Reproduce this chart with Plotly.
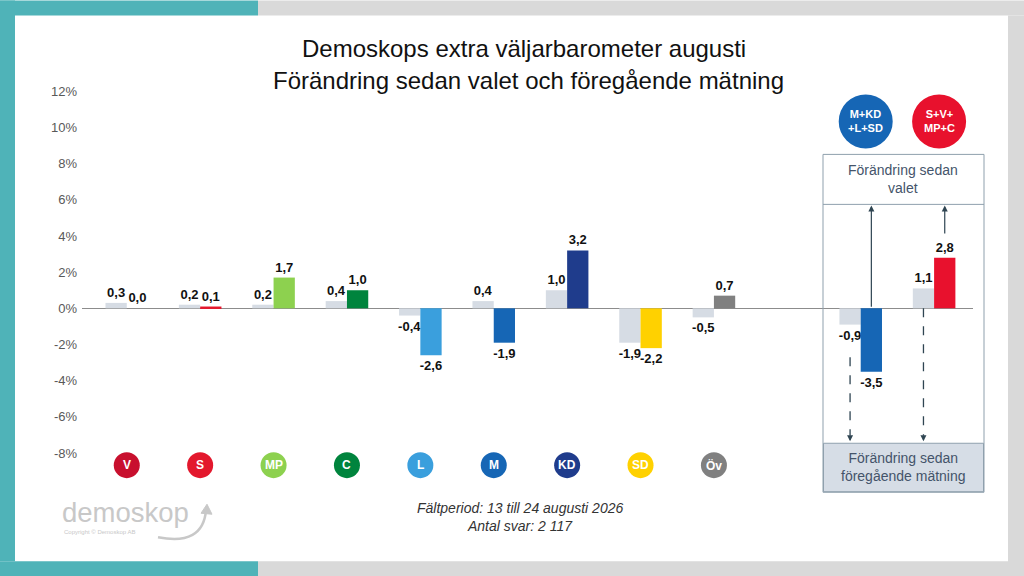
import plotly.graph_objects as go

# ---------------- data ----------------
categories = ["V", "S", "MP", "C", "L", "M", "KD", "SD", "Öv", "", "M+KD<br>+L+SD", "S+V+<br>MP+C"]
prev_change = [0.3, 0.2, 0.2, 0.4, -0.4, 0.4, 1.0, -1.9, -0.5, None, -0.9, 1.1]
elect_change = [0.0, 0.1, 1.7, 1.0, -2.6, -1.9, 3.2, -2.2, 0.7, None, -3.5, 2.8]
bar_colors = ["#c8102e", "#e3182d", "#8dd14f", "#00843d", "#3a9fdd", "#1666b5",
              "#1f3c8c", "#ffd100", "#808080", "#ffffff", "#1666b5", "#e8112d"]
party_labels = ["V", "S", "MP", "C", "L", "M", "KD", "SD", "Öv"]
bloc_labels = ["M+KD<br>+L+SD", "S+V+<br>MP+C"]
bloc_colors = ["#1666b5", "#e8112d"]
tick_vals = [-8, -6, -4, -2, 0, 2, 4, 6, 8, 10, 12]
tick_text = ["-8%", "-6%", "-4%", "-2%", "0%", "2%", "4%", "6%", "8%", "10%", "12%"]

title_1 = "Demoskops extra väljarbarometer augusti"
title_2 = "Förändring sedan valet och föregående mätning"
foot_1 = "Fältperiod: 13 till 24 augusti 2026"
foot_2 = "Antal svar: 2 117"
box_top = "Förändring sedan<br>valet"
box_bottom = "Förändring sedan<br>föregående mätning"

# ---------------- layout geometry ----------------
W, H = 1024, 576
X_RANGE = [-0.61, 11.53]
Y_RANGE = [-9.6, 12.4]
PL, PR = 82, 973
PT = 308 - Y_RANGE[1] * 18.1
PB = 308 - Y_RANGE[0] * 18.1

def px(x):
    return (x - PL) / (PR - PL)

def py(y):
    return (PB - y) / (PB - PT)

xs = list(range(len(categories)))
FONT = "Liberation Sans, Arial, sans-serif"

fig = go.Figure()
fig.add_trace(go.Bar(
    x=xs, y=prev_change, width=0.29, offset=-0.29,
    marker=dict(color="#d6dce4", line=dict(width=0)),
    texttemplate="<b>%{y:.1f}</b>", textposition="outside",
    textfont=dict(size=13, color="#111111", family=FONT),
    constraintext="none", cliponaxis=False, hoverinfo="skip",
))
fig.add_trace(go.Bar(
    x=xs, y=elect_change, width=0.29, offset=0.0,
    marker=dict(color=bar_colors, line=dict(width=0)),
    texttemplate="<b>%{y:.1f}</b>", textposition="outside",
    textfont=dict(size=13, color="#111111", family=FONT),
    constraintext="none", cliponaxis=False, hoverinfo="skip",
))

shapes = []
annotations = []

def note(x, y, text, size, color, xanchor="center", xref="paper", yref="paper", **kw):
    d = dict(xref=xref, yref=yref, x=x, y=y, text=text, showarrow=False,
             xanchor=xanchor, yanchor="middle",
             font=dict(size=size, color=color, family=FONT))
    d.update(kw)
    annotations.append(d)

# frame bands
teal = "#4fb3b8"
greyb = "#d9d9d9"
def rect(x0, y0, x1, y1, color, line=None, width=0, layer="below"):
    shapes.append(dict(type="rect", xref="paper", yref="paper",
                       x0=px(x0), x1=px(x1), y0=py(y1), y1=py(y0),
                       fillcolor=color, layer=layer,
                       line=dict(width=width, color=line or color)))

rect(0, 0, 258, 15, teal)
rect(258, 0, 1024, 15, greyb)
rect(0, 0, 15, 561, teal)
rect(1008, 15, 1024, 576, greyb)
rect(0, 561, 258, 576, teal)
rect(258, 561, 1024, 576, greyb)

# right explanatory box
rect(823.5, 443, 983.5, 491.5, "#d6dde6", line="#8fa0ad", width=1, layer="below")
rect(823, 154, 984, 492, "rgba(0,0,0,0)", line="#8fa0ad", width=1, layer="above")
shapes.append(dict(type="line", xref="paper", yref="paper", x0=px(823), x1=px(984),
                   y0=py(204), y1=py(204), line=dict(color="#8fa0ad", width=1)))
note(px(903), py(179), box_top, 14, "#44546a")
note(px(903), py(467), box_bottom, 14, "#44546a")

# party circles
for i, lab in enumerate(party_labels):
    shapes.append(dict(type="circle", xref="x", yref="y", xsizemode="pixel", ysizemode="pixel",
                       xanchor=i, yanchor=-8.67, x0=-13, x1=13, y0=-13, y1=13,
                       fillcolor=bar_colors[i], line=dict(width=0)))
    note(i, -8.67, "<b>%s</b>" % lab, 12, "white", xref="x", yref="y")

# bloc circles
for j, lab in enumerate(bloc_labels):
    xi = 10 + j
    shapes.append(dict(type="circle", xref="x", yref="y", xsizemode="pixel", ysizemode="pixel",
                       xanchor=xi, yanchor=10.33, x0=-27 + 5, x1=27 + 5, y0=-27, y1=27,
                       fillcolor=bloc_colors[j], line=dict(width=0)))
    note(xi, 10.33, "<b>%s</b>" % lab, 11, "white", xref="x", yref="y", xshift=5)

# solid arrows up to the "valet" box
arrow_c = "#2f4552"
y_box_top = (308 - 205) / 18.1
for xi, ystart in [(10.145, 0.0), (11.145, 4.05)]:
    annotations.append(dict(x=xi, y=y_box_top, ax=xi, ay=ystart, xref="x", yref="y",
                            axref="x", ayref="y", text="", showarrow=True,
                            arrowhead=2, arrowsize=1, arrowwidth=1.2, arrowcolor=arrow_c))

# dashed arrows down to the "föregående" box
y_box_bot = (308 - 441) / 18.1
for xi, ystart in [(9.855, -2.7), (10.855, 0.0)]:
    shapes.append(dict(type="line", xref="x", yref="y", x0=xi, x1=xi, y0=ystart, y1=y_box_bot + 0.3,
                       line=dict(color=arrow_c, width=1.3, dash="dash")))
    annotations.append(dict(x=xi, y=y_box_bot, ax=xi, ay=y_box_bot + 0.35, xref="x", yref="y",
                            axref="x", ayref="y", text="", showarrow=True,
                            arrowhead=2, arrowsize=1, arrowwidth=1.2, arrowcolor=arrow_c))

# titles
note(px(524), py(48), title_1, 24, "#111111")
note(px(528), py(80), title_2, 24, "#111111")
# footnote
note(px(520), py(508), "<i>%s</i>" % foot_1, 14, "#333333")
note(px(520), py(526), "<i>%s</i>" % foot_2, 14, "#333333")
# logo
note(px(60), py(512), "demoskop", 27.5, "#c8c8c8", xanchor="left")
note(px(62), py(532), "Copyright © Demoskop AB", 6, "#c8c8c8", xanchor="left")
p0 = (158, 537); pc = (203, 546); p1 = (206, 510)
shapes.append(dict(type="path", xref="paper", yref="paper",
                   path="M %f,%f Q %f,%f %f,%f" % (px(p0[0]), py(p0[1]), px(pc[0]), py(pc[1]), px(p1[0]), py(p1[1])),
                   line=dict(color="#c8c8c8", width=2.5)))
shapes.append(dict(type="path", xref="paper", yref="paper",
                   path="M %f,%f L %f,%f L %f,%f Z" % (px(201), py(513), px(207), py(504), px(212), py(514)),
                   fillcolor="#c8c8c8", line=dict(color="#c8c8c8", width=1)))

fig.update_layout(
    width=W, height=H,
    margin=dict(l=PL, r=W - PR, t=PT, b=H - PB, pad=0),
    paper_bgcolor="white", plot_bgcolor="white",
    separators=", ",
    showlegend=False, barmode="overlay",
    font=dict(family=FONT),
    xaxis=dict(range=X_RANGE, showticklabels=False, showgrid=False, zeroline=False,
               showline=False, ticks=""),
    yaxis=dict(range=Y_RANGE, tickvals=tick_vals, ticktext=tick_text, showgrid=False,
               zeroline=True, zerolinecolor="#8c8c8c", zerolinewidth=1.3, showline=False,
               ticks="", ticklabelstandoff=4,
               tickfont=dict(size=13, color="#595959", family=FONT)),
    shapes=shapes, annotations=annotations,
)

fig.write_html("out.html", config={"displayModeBar": False},
               post_script="document.body.style.margin='0px';document.body.style.overflow='hidden';")
